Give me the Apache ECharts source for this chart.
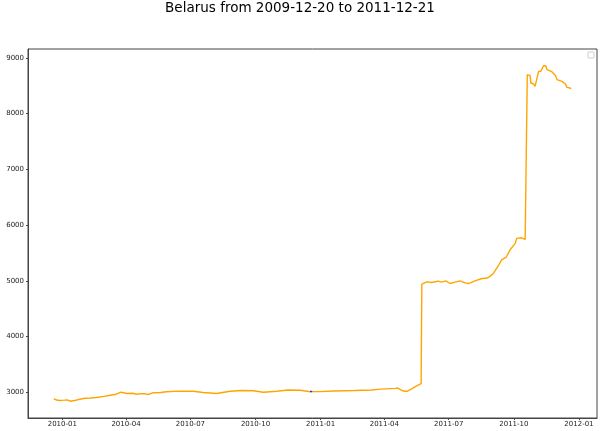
<!DOCTYPE html>
<html>
<head>
<meta charset="utf-8">
<script src="https://cdn.jsdelivr.net/npm/echarts@6/dist/echarts.min.js"></script>
<style>html,body{margin:0;padding:0;background:#fff}#c{width:600px;height:431px}</style>
</head>
<body>
<div id="c"></div>
<script>
var titleText = 'Belarus from 2009-12-20 to 2011-12-21';
var dates = ['2009-12-20','2009-12-24','2009-12-28','2010-01-04','2010-01-08','2010-01-12','2010-01-18','2010-01-24','2010-02-02','2010-02-10','2010-02-18','2010-03-01','2010-03-08','2010-03-18','2010-03-25','2010-03-30','2010-04-02','2010-04-10','2010-04-16','2010-04-22','2010-04-28','2010-05-02','2010-05-09','2010-05-20','2010-05-28','2010-06-16','2010-07-05','2010-07-19','2010-08-07','2010-08-26','2010-09-11','2010-09-28','2010-10-12','2010-10-31','2010-11-16','2010-12-03','2010-12-15','2010-12-31','2011-01-20','2011-02-18','2011-03-14','2011-03-27','2011-04-17','2011-04-20','2011-04-27','2011-05-03','2011-05-09','2011-05-16','2011-05-23','2011-05-24','2011-05-31','2011-06-07','2011-06-16','2011-06-21','2011-06-27','2011-07-03','2011-07-10','2011-07-17','2011-07-24','2011-07-29','2011-08-07','2011-08-17','2011-08-23','2011-08-28','2011-09-02','2011-09-09','2011-09-14','2011-09-20','2011-09-26','2011-10-03','2011-10-05','2011-10-12','2011-10-17','2011-10-19','2011-10-20','2011-10-24','2011-10-25','2011-10-29','2011-10-31','2011-11-05','2011-11-08','2011-11-12','2011-11-15','2011-11-17','2011-11-24','2011-11-29','2011-12-01','2011-12-08','2011-12-13','2011-12-15','2011-12-19','2011-12-21'];
var rates = [2881,2860,2851,2858,2863,2838,2850,2869,2892,2895,2905,2925,2940,2964,3000,2985,2977,2982,2964,2975,2971,2959,2989,2995,3007,3020,3018,2995,2977,3018,3030,3025,3000,3018,3040,3036,3013,3010,3022,3030,3040,3055,3068,3075,3025,3013,3055,3108,3155,4940,4980,4969,4993,4975,4998,4951,4975,4998,4962,4951,4998,5041,5045,5075,5131,5270,5380,5419,5563,5671,5761,5772,5743,5731,8700,8682,8551,8533,8490,8760,8760,8860,8860,8790,8749,8682,8611,8580,8533,8472,8461,8450];
var blueDates = ['2010-12-17','2010-12-20'];
var blueRates = [3013,3013];
var xTickLabels = ['2010-01','2010-04','2010-07','2010-10','2011-01','2011-04','2011-07','2011-10','2012-01'];
var yTickLabels = [3000,4000,5000,6000,7000,8000,9000];

function ms(s){return new Date(s+'T00:00:00Z').getTime();}
var xTicks = xTickLabels.map(function(s){return ms(s+'-01');});
function pad(n){return n<10?'0'+n:''+n;}
var font = 'DejaVu Sans';
var chart = echarts.init(document.getElementById('c'), null, {renderer:'canvas'});
chart.setOption({
  animation:false,
  backgroundColor:'#fff',
  title:{text:titleText,left:'center',top:0,padding:[1,0,0,0],textStyle:{fontFamily:font,fontSize:13.5,fontWeight:'normal',color:'#000'}},
  grid:{left:28,right:3,top:49,bottom:13,show:true,borderColor:'#444',borderWidth:1,containLabel:false},
  xAxis:{type:'value',min:Date.UTC(2009,10,13,12),max:Date.UTC(2012,0,26,12),
    splitLine:{show:false},
    axisLine:{show:true,onZero:false,lineStyle:{color:'#444'}},
    axisTick:{show:true,length:2,customValues:xTicks,lineStyle:{color:'#444'}},
    axisLabel:{customValues:xTicks,margin:3,fontFamily:font,fontSize:7,color:'#222',
      formatter:function(v){var d=new Date(v);return d.getUTCFullYear()+'-'+pad(d.getUTCMonth()+1);}}},
  yAxis:{type:'value',min:2537,max:9161,
    splitLine:{show:false},
    axisLine:{show:true,lineStyle:{color:'#444'}},
    axisTick:{show:true,length:2,customValues:yTickLabels,lineStyle:{color:'#444'}},
    axisLabel:{customValues:yTickLabels,margin:4,fontFamily:font,fontSize:7,color:'#222',
      formatter:function(v){return String(Math.round(v));}}},
  graphic:[{type:'rect',shape:{x:588,y:52,width:6,height:6,r:1},style:{fill:'#fff',stroke:'#ccc',lineWidth:1}}],
  series:[
    {type:'line',name:'rate',showSymbol:false,data:dates.map(function(d,i){return [ms(d),rates[i]];}),lineStyle:{color:'#FFA500',width:1.4},itemStyle:{color:'#FFA500'}},
    {type:'line',name:'mark',showSymbol:false,data:blueDates.map(function(d,i){return [ms(d),blueRates[i]];}),lineStyle:{color:'#3333cc',width:1.4},itemStyle:{color:'#3333cc'}}
  ]
});
</script>
</body>
</html>
